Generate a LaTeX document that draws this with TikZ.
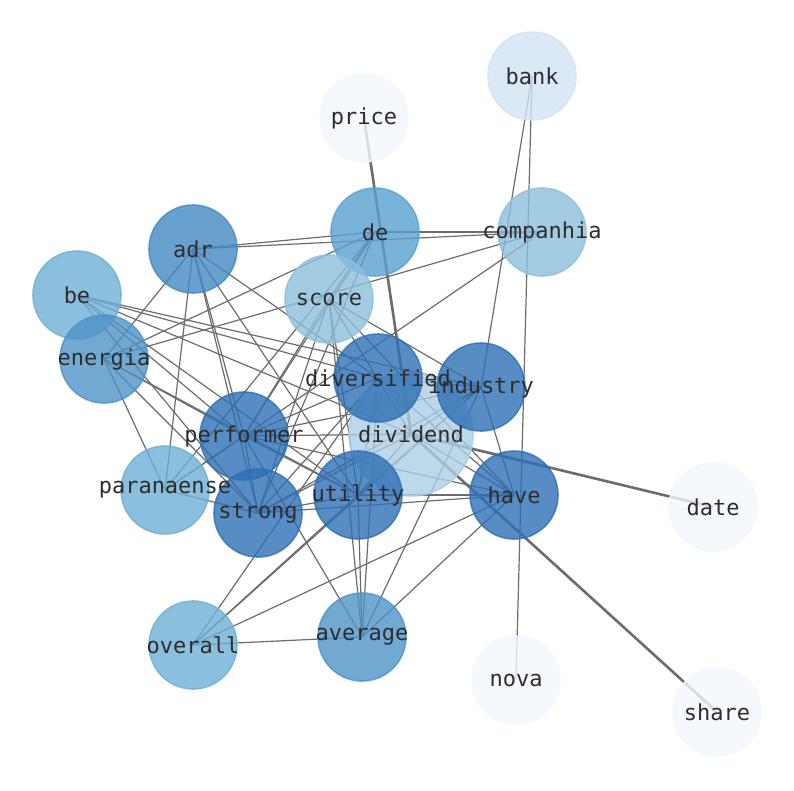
\documentclass[tikz,border=0pt]{standalone}
\usepackage{fontspec}
\setmonofont{DejaVu Sans Mono}
\pgfdeclarelayer{edges}
\pgfdeclarelayer{labels}
\pgfsetlayers{edges,main,labels}
\definecolor{cDark}{RGB}{45,112,181}
\definecolor{cAdr}{RGB}{66,137,194}
\definecolor{cMed}{RGB}{77,147,200}
\definecolor{cDe}{RGB}{89,160,208}
\definecolor{cMl}{RGB}{110,175,214}
\definecolor{cLt}{RGB}{140,191,220}
\definecolor{cDiv}{RGB}{171,206,229}
\definecolor{cBank}{RGB}{210,226,243}
\definecolor{cPale}{RGB}{242,247,254}
\definecolor{edgegray}{RGB}{108,108,108}
\definecolor{labelc}{RGB}{45,45,45}
\tikzset{
  wnode/.style={circle, minimum size=88pt, inner sep=0pt, fill=#1, draw=#1,
    line width=1.6pt, fill opacity=0.8, draw opacity=0.8},
  bignode/.style={wnode=#1, minimum size=124pt},
  wlabel/.style={inner sep=0pt, text=labelc, font=\ttfamily\fontsize{22}{24}\selectfont},
  link/.style={draw=edgegray, line width=1.2pt},
  heavy/.style={draw=edgegray, line width=2.6pt},
}
\begin{document}
\begin{tikzpicture}[x=1pt,y=-1pt]
\useasboundingbox (0,0) rectangle (794,790);
% nodes
\node[wnode=cBank] (bank) at (532,76) {};
\node[wnode=cPale] (price) at (364,118) {};
\node[wnode=cDe] (de) at (375,232) {};
\node[wnode=cLt] (companhia) at (542,232) {};
\node[wnode=cAdr] (adr) at (193,249) {};
\node[wnode=cMl] (be) at (77,295) {};
\node[wnode=cLt] (score) at (329,299) {};
\node[wnode=cMed] (energia) at (104,359) {};
\node[bignode=cDiv] (dividend) at (411,434) {};
\node[wnode=cDark] (diversified) at (378,378) {};
\node[wnode=cDark] (industry) at (481,387) {};
\node[wnode=cDark] (performer) at (244,436) {};
\node[wnode=cMl] (paranaense) at (165,490) {};
\node[wnode=cDark] (utility) at (358,495) {};
\node[wnode=cDark] (strong) at (258,513) {};
\node[wnode=cDark] (have) at (514,495) {};
\node[wnode=cPale] (date) at (713,507) {};
\node[wnode=cMl] (overall) at (193,645) {};
\node[wnode=cMed] (average) at (362,637) {};
\node[wnode=cPale] (nova) at (516,680) {};
\node[wnode=cPale] (share) at (717,712) {};
% labels
\begin{pgfonlayer}{labels}
\foreach \n in {bank,price,de,companhia,adr,be,score,energia,dividend,diversified,
  industry,performer,paranaense,utility,strong,have,date,overall,average,nova,share}
  {\node[wlabel] (\n-t) at (\n.center) {\n};}
\end{pgfonlayer}
% edges
\begin{pgfonlayer}{edges}
\foreach \a/\b in {companhia/paranaense, companhia/de, companhia/energia, companhia/adr,
  paranaense/de, paranaense/energia, paranaense/adr, de/energia, de/adr, energia/adr,
  bank/industry, bank/nova,
  overall/average, overall/diversified, overall/utility, overall/industry, overall/have,
  average/diversified, average/utility, average/industry, average/have,
  diversified/utility, diversified/industry, diversified/have, utility/industry,
  utility/have, industry/have, average/score, average/performer,
  be/diversified, be/industry, be/performer, be/strong, be/utility, be/dividend,
  energia/performer, energia/utility, energia/strong,
  adr/performer, adr/strong, adr/utility, adr/diversified,
  score/de, score/industry, score/performer, score/strong, score/utility,
  score/dividend, score/have,
  performer/strong, performer/diversified, performer/dividend, performer/industry,
  performer/utility, performer/have, performer/paranaense,
  strong/paranaense, strong/have, strong/diversified, strong/industry,
  strong/dividend, strong/utility,
  dividend/diversified, dividend/industry, dividend/utility, dividend/have,
  de/performer, de/strong}
  {\draw[link] (\a.center) -- (\b.center);}
\foreach \a/\b in {price/dividend, dividend/date, dividend/share}
  {\draw[heavy] (\a.center) -- (\b.center);}
\end{pgfonlayer}
\end{tikzpicture}
\end{document}
